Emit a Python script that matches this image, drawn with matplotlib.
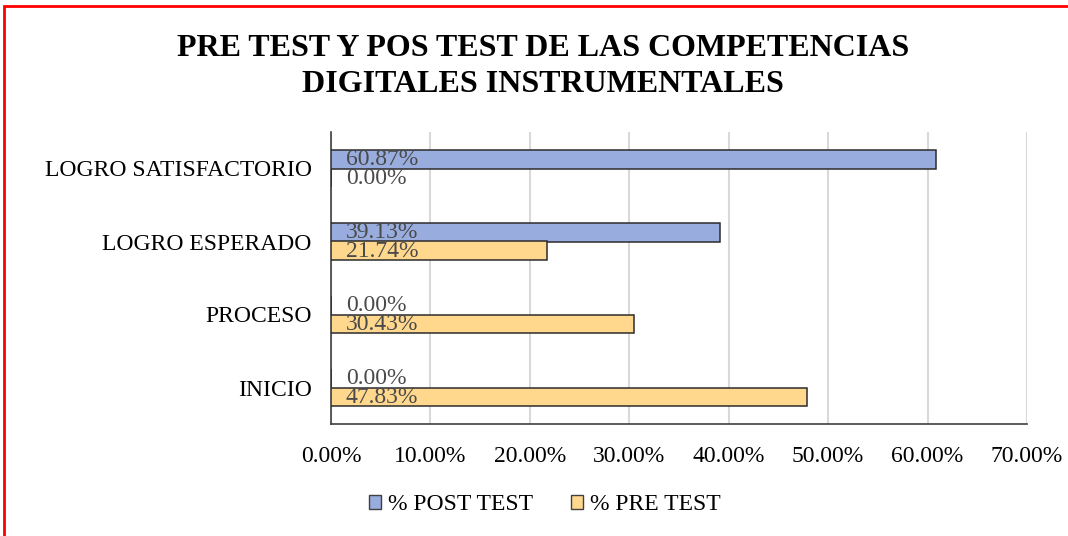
import numpy as np
import matplotlib.pyplot as plt
from matplotlib.patches import Rectangle, Patch

categories = ['LOGRO SATISFACTORIO', 'LOGRO ESPERADO', 'PROCESO', 'INICIO']
post_test = [60.87, 39.13, 0.00, 0.00]
pre_test = [0.00, 21.74, 30.43, 47.83]
ticks = [0, 10, 20, 30, 40, 50, 60, 70]

plt.rcParams['font.family'] = ['Liberation Serif', 'DejaVu Serif']

W, H = 1068, 536
fig = plt.figure(figsize=(W / 100, H / 100), dpi=100)
ax = fig.add_axes([331 / W, 1 - 424 / H, (1027 - 331) / W, (424 - 132) / H])

y = np.arange(len(categories))[::-1]
h = 0.26
post_col = '#98ACDE'
pre_col = '#FFD88E'
ax.barh(y + h / 2, post_test, height=h, color=post_col, edgecolor='#2b2b2b', linewidth=1.1, zorder=3)
ax.barh(y - h / 2, pre_test, height=h, color=pre_col, edgecolor='#2b2b2b', linewidth=1.1, zorder=3)

for yi, v in zip(y, post_test):
    ax.text(1.5, yi + h / 2 - 0.01, f'{v:.2f}%', va='center', ha='left', fontsize=17,
            color='#4a4a4a', zorder=4)
for yi, v in zip(y, pre_test):
    ax.text(1.5, yi - h / 2 - 0.01, f'{v:.2f}%', va='center', ha='left', fontsize=17,
            color='#4a4a4a', zorder=4)

ax.set_xlim(0, 70)
ax.set_ylim(-0.5, len(categories) - 0.5)
ax.set_xticks(ticks)
ax.set_xticklabels([f'{t:.2f}%' for t in ticks])
ax.set_yticks(y)
ax.set_yticklabels(categories)
ax.tick_params(axis='both', length=0, labelsize=17, colors='#000000')
ax.tick_params(axis='x', pad=16)
ax.tick_params(axis='y', pad=14)
ax.grid(axis='x', color='#D9D9D9', linewidth=1.5, zorder=0)
for s in ['top', 'right']:
    ax.spines[s].set_visible(False)
ax.spines['left'].set_color('#404040')
ax.spines['bottom'].set_color('#404040')
ax.spines['left'].set_linewidth(1.2)
ax.spines['bottom'].set_linewidth(1.2)

fig.text(543 / W, 1 - 48 / H, 'PRE TEST Y POS TEST DE LAS COMPETENCIAS', ha='center', va='center',
         fontsize=23, fontweight='bold')
fig.text(543 / W, 1 - 85 / H, 'DIGITALES INSTRUMENTALES', ha='center', va='center',
         fontsize=23, fontweight='bold')

handles = [Patch(facecolor=post_col, edgecolor='#404040', label='% POST TEST'),
           Patch(facecolor=pre_col, edgecolor='#404040', label='% PRE TEST')]
fig.legend(handles=handles, loc='center', bbox_to_anchor=(545 / W, 1 - 505 / H), ncol=2,
           frameon=False, fontsize=17, handlelength=0.5, handleheight=0.5,
           handletextpad=0.3, columnspacing=1.6)

fig.add_artist(Rectangle((4 / W, -0.1), 1.2, 1 - 6 / H + 0.1, transform=fig.transFigure,
                         fill=False, edgecolor='#FF0000', linewidth=2))

fig.savefig('out.png', dpi=100)
